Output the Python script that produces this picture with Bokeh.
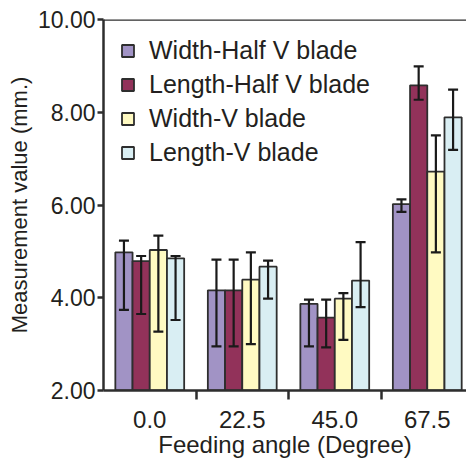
from bokeh.plotting import figure
from bokeh.models import (Range1d, FixedTicker, Legend, LegendItem, Whisker, TeeHead,
                          ColumnDataSource, Span, NumeralTickFormatter)
from bokeh.embed import file_html
from bokeh.resources import INLINE

categories = ["0.0", "22.5", "45.0", "67.5"]
series = ["Width-Half V blade", "Length-Half V blade", "Width-V blade", "Length-V blade"]
colors = ["#A193C5", "#92325A", "#FFFAC2", "#D9EEF3"]

width_half = [4.98, 4.16, 3.87, 6.02]
width_half_hi = [5.23, 4.82, 3.96, 6.12]
width_half_lo = [3.74, 2.95, 2.95, 5.85]

length_half = [4.79, 4.16, 3.57, 8.58]
length_half_hi = [4.90, 4.82, 3.96, 8.99]
length_half_lo = [3.65, 2.95, 2.93, 8.27]

width_v = [5.03, 4.39, 3.98, 6.72]
width_v_hi = [5.34, 4.98, 4.10, 7.50]
width_v_lo = [3.27, 3.00, 3.09, 4.98]

length_v = [4.85, 4.67, 4.37, 7.89]
length_v_hi = [4.90, 4.80, 5.20, 8.49]
length_v_lo = [3.52, 3.98, 3.80, 7.19]

y_ticks = [2, 4, 6, 8, 10]

values = [width_half, length_half, width_v, length_v]
highs = [width_half_hi, length_half_hi, width_v_hi, length_v_hi]
lows = [width_half_lo, length_half_lo, width_v_lo, length_v_lo]

FONT = "Liberation Sans"
TXT = "#231F20"
LINE = "#2E2E2E"

p = figure(output_backend="svg", toolbar_location=None,
           frame_width=363, frame_height=371,
           min_border_left=103, min_border_right=0, min_border_top=19, min_border_bottom=60,
           x_range=Range1d(-0.5, 3.424), y_range=Range1d(2, 10))
p.outline_line_color = None
p.grid.visible = False
p.background_fill_color = "white"

bar_w = 0.186
offsets = [-0.279, -0.093, 0.093, 0.279]
items = []
for k in range(4):
    xs = [i + offsets[k] for i in range(len(categories))]
    src = ColumnDataSource(dict(x=xs, top=values[k], hi=highs[k], lo=lows[k]))
    r = p.vbar(x="x", top="top", bottom=0, width=bar_w, source=src,
               fill_color=colors[k], line_color=LINE, line_width=1.8)
    w = Whisker(source=src, base="x", upper="hi", lower="lo", dimension="height",
                line_color="#1A1A1A", line_width=2.2, level="annotation",
                upper_head=TeeHead(size=10, line_color="#1A1A1A", line_width=2.2),
                lower_head=TeeHead(size=10, line_color="#1A1A1A", line_width=2.2))
    p.add_layout(w)
    items.append(LegendItem(label=series[k], renderers=[r]))

p.add_layout(Span(location=10, dimension="width", line_color=LINE, line_width=2.5))

# y axis
p.yaxis.ticker = FixedTicker(ticks=y_ticks)
p.yaxis.formatter = NumeralTickFormatter(format="0.00")
p.yaxis.axis_label = "Measurement value (mm.)"
p.yaxis.axis_line_width = 2.5
p.yaxis.axis_line_color = LINE
p.yaxis.major_tick_out = 6
p.yaxis.major_tick_in = 0
p.yaxis.major_tick_line_width = 2.5
p.yaxis.major_tick_line_color = LINE
p.yaxis.minor_tick_line_color = None
p.yaxis.major_label_standoff = 2
p.yaxis.major_label_text_font_size = "23px"
p.yaxis.axis_label_text_font_size = "22px"
p.yaxis.axis_label_standoff = 3

# x axis
p.xaxis.ticker = FixedTicker(ticks=[0, 1, 2, 3], minor_ticks=[0.5, 1.5, 2.5])
p.xaxis.major_label_overrides = {i: c for i, c in enumerate(categories)}
p.xaxis.axis_label = "Feeding angle (Degree)"
p.xaxis.axis_line_width = 2.5
p.xaxis.axis_line_color = LINE
p.xaxis.major_tick_out = 0
p.xaxis.major_tick_in = 0
p.xaxis.minor_tick_out = 9
p.xaxis.minor_tick_in = 0
p.xaxis.minor_tick_line_width = 2.5
p.xaxis.minor_tick_line_color = LINE
p.xaxis.major_label_standoff = 11
p.xaxis.axis_label_standoff = 0
p.xaxis.major_label_text_font_size = "24px"
p.xaxis.axis_label_text_font_size = "24px"

for ax in [p.xaxis, p.yaxis]:
    ax.major_label_text_font = FONT
    ax.major_label_text_color = TXT
    ax.axis_label_text_font = FONT
    ax.axis_label_text_font_style = "normal"
    ax.axis_label_text_color = TXT

legend = Legend(items=items, location="top_left")
legend.label_text_font = FONT
legend.label_text_font_size = "25px"
legend.label_text_color = TXT
legend.glyph_width = 15
legend.glyph_height = 15
legend.label_standoff = 14
legend.spacing = 5
legend.margin = 17
legend.padding = 3
legend.border_line_color = None
legend.background_fill_alpha = 0
p.add_layout(legend)

open("out.html", "w").write(file_html(p, INLINE))
